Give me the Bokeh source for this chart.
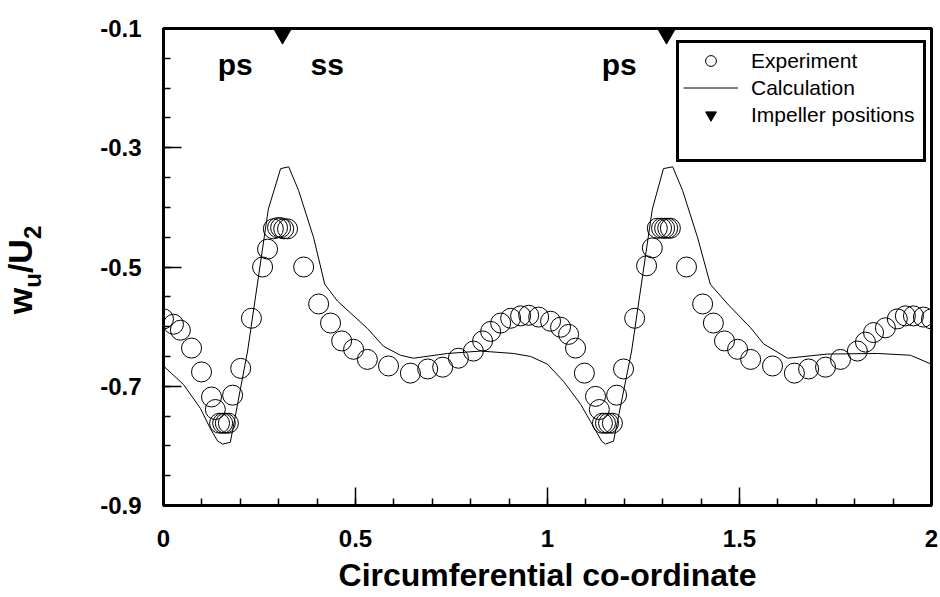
import math
from bokeh.plotting import figure
from bokeh.layouts import row
from bokeh.models import (Range1d, FixedTicker, NumeralTickFormatter, Legend,
                          LegendItem, Label)
from bokeh.embed import file_html
from bokeh.resources import INLINE

# ---------------- data ----------------
experiment_x = [0.000, 0.026, 0.044, 0.073, 0.099, 0.125, 0.135, 0.146, 0.154, 0.161,
                0.169, 0.180, 0.201, 0.229, 0.258, 0.271, 0.286, 0.297, 0.305, 0.313,
                0.323, 0.365, 0.404, 0.435, 0.464, 0.495, 0.531, 0.586, 0.643, 0.688,
                0.727, 0.768, 0.807, 0.831, 0.852, 0.878, 0.904, 0.930, 0.951, 0.977,
                1.008, 1.034, 1.055, 1.073, 1.096, 1.125, 1.135, 1.143, 1.151, 1.159,
                1.169, 1.180, 1.198, 1.227, 1.258, 1.273, 1.286, 1.297, 1.305, 1.313,
                1.320, 1.362, 1.404, 1.432, 1.461, 1.495, 1.529, 1.586, 1.643, 1.680,
                1.724, 1.763, 1.807, 1.828, 1.849, 1.880, 1.911, 1.932, 1.953, 1.979,
                2.000]
experiment_y = [-0.587, -0.596, -0.606, -0.636, -0.676, -0.718, -0.739, -0.762, -0.762, -0.762,
                -0.762, -0.715, -0.670, -0.586, -0.500, -0.470, -0.436, -0.434, -0.434, -0.436,
                -0.436, -0.500, -0.562, -0.594, -0.624, -0.638, -0.655, -0.666, -0.678, -0.671,
                -0.668, -0.653, -0.641, -0.624, -0.608, -0.594, -0.586, -0.582, -0.581, -0.584,
                -0.591, -0.601, -0.613, -0.636, -0.678, -0.717, -0.739, -0.762, -0.762, -0.762,
                -0.762, -0.715, -0.671, -0.586, -0.498, -0.468, -0.435, -0.435, -0.435, -0.435,
                -0.435, -0.500, -0.562, -0.594, -0.624, -0.638, -0.655, -0.666, -0.678, -0.671,
                -0.668, -0.655, -0.641, -0.626, -0.610, -0.602, -0.587, -0.582, -0.582, -0.584,
                -0.587]

calculation_x = [0.000, 0.052, 0.096, 0.122, 0.141, 0.154, 0.174, 0.219, 0.273, 0.305,
                 0.326, 0.352, 0.391, 0.420, 0.453, 0.531, 0.573, 0.617, 0.651, 0.740,
                 0.826, 0.911, 0.956, 1.000, 1.042, 1.086, 1.112, 1.141, 1.151, 1.172,
                 1.219, 1.273, 1.302, 1.326, 1.352, 1.391, 1.424, 1.469, 1.529, 1.563,
                 1.625, 1.729, 1.859, 1.945, 2.000]
calculation_y = [-0.666, -0.697, -0.737, -0.771, -0.792, -0.797, -0.794, -0.641, -0.403, -0.335,
                 -0.332, -0.372, -0.451, -0.529, -0.557, -0.603, -0.633, -0.648, -0.653, -0.645,
                 -0.641, -0.645, -0.650, -0.663, -0.692, -0.730, -0.759, -0.792, -0.797, -0.792,
                 -0.641, -0.403, -0.335, -0.332, -0.372, -0.451, -0.529, -0.562, -0.602, -0.629,
                 -0.653, -0.646, -0.645, -0.648, -0.663]

impeller_x = [0.31, 1.31]
impeller_y = [-0.1087, -0.1087]

x_ticks = [0, 0.5, 1, 1.5, 2]
y_ticks = [-0.9, -0.7, -0.5, -0.3, -0.1]

side_labels = ["ps", "ss", "ps"]
side_labels_x = [0.141, 0.383, 1.141]
side_labels_y = [-0.1605, -0.1605, -0.1605]

FONT = "Liberation Sans"
H = 596
LW = 60  # width of the strip holding the y-axis title

# ---------------- main figure ----------------
p = figure(width=938 - LW, height=H, output_backend="svg", toolbar_location=None,
           x_range=Range1d(0, 2), y_range=Range1d(-0.9, -0.1),
           min_border_left=163 - LW, min_border_right=7, min_border_top=28,
           min_border_bottom=H - 505, background_fill_color="white",
           border_fill_color="white")
p.grid.visible = False
p.outline_line_color = "black"
p.outline_line_width = 3

r_line = p.line(calculation_x, calculation_y, line_color="black", line_width=1)
r_exp = p.scatter(experiment_x, experiment_y, marker="circle", size=20,
                  fill_color=None, line_color="black", line_width=1)
r_tri = p.scatter(impeller_x, impeller_y, marker="inverted_triangle", size=18,
                  fill_color="black", line_color="black")
r_blank = p.line([], [], line_alpha=0)  # empty row that gives the legend box its bottom space

for t, xx, yy in zip(side_labels, side_labels_x, side_labels_y):
    p.add_layout(Label(x=xx, y=yy, text=t, text_font=FONT, text_font_size="30px",
                       text_font_style="bold", text_color="black",
                       text_align="left", text_baseline="alphabetic"))

# axes
xa = p.xaxis[0]
xa.ticker = FixedTicker(ticks=x_ticks, minor_ticks=[i * 0.1 for i in range(21)])
xa.formatter = NumeralTickFormatter(format="0.[0]")
ya = p.yaxis[0]
ya.ticker = FixedTicker(ticks=y_ticks, minor_ticks=[-0.9 + 0.05 * i for i in range(17)])
ya.formatter = NumeralTickFormatter(format="0.0")
for ax in (xa, ya):
    ax.axis_line_width = 3
    ax.axis_line_color = "black"
    ax.major_tick_in = 18
    ax.major_tick_out = 0
    ax.minor_tick_in = 7
    ax.minor_tick_out = 0
    ax.major_tick_line_width = 1.5
    ax.minor_tick_line_width = 1.5
    ax.major_tick_line_color = "black"
    ax.minor_tick_line_color = "black"
    ax.major_label_text_font = FONT
    ax.major_label_text_font_size = "24px"
    ax.major_label_text_font_style = "bold"
    ax.major_label_text_color = "black"
xa.major_label_standoff = 24
ya.major_label_standoff = 22

xa.axis_label = "Circumferential co-ordinate"
xa.axis_label_text_font = FONT
xa.axis_label_text_font_size = "32px"
xa.axis_label_text_font_style = "bold"
xa.axis_label_text_color = "black"
xa.axis_label_standoff = 7

legend = Legend(items=[LegendItem(label="Experiment", renderers=[r_exp]),
                       LegendItem(label="Calculation", renderers=[r_line]),
                       LegendItem(label="Impeller positions", renderers=[r_tri]),
                       LegendItem(label=" ", renderers=[r_blank])],
                location=(513, 343), orientation="vertical",
                label_text_font=FONT, label_text_font_size="21px",
                label_text_color="black", label_standoff=13,
                glyph_width=55, glyph_height=27, label_height=27, label_width=168,
                spacing=0, padding=4, margin=0, border_line_color="black",
                border_line_alpha=1, border_line_width=3,
                background_fill_color="white", background_fill_alpha=1)
p.add_layout(legend)

# ---------------- strip with the y-axis title  w_u / U_2 ----------------
t = figure(width=LW, height=H, output_backend="svg", toolbar_location=None,
           x_axis_type=None, y_axis_type=None, x_range=Range1d(0, 1),
           y_range=Range1d(0, 1), min_border_left=0, min_border_right=0,
           min_border_top=28, min_border_bottom=H - 505, outline_line_color=None,
           background_fill_color="white", border_fill_color="white")
t.grid.visible = False
ylab = [("w", 34, 19, 191.3), ("u", 24, 32, 217.75),
        ("/U", 34, 19, 232.4), ("2", 24, 32, 266.4)]
for txt, fs, xx, yy in ylab:
    t.add_layout(Label(x=xx, y=yy, x_units="screen", y_units="screen", text=txt,
                       angle=math.pi / 2, text_font=FONT, text_font_size=f"{fs}px",
                       text_font_style="bold", text_color="black",
                       text_align="left", text_baseline="alphabetic"))

layout = row(t, p, spacing=0)
open("out.html", "w").write(file_html(layout, INLINE))
